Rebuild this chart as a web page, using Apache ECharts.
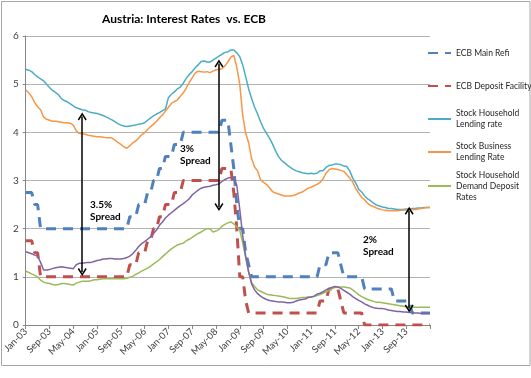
<!DOCTYPE html>
<html><head><meta charset="utf-8">
<script src="https://cdn.jsdelivr.net/npm/echarts@6/dist/echarts.min.js"></script>
<style>html,body{margin:0;padding:0;background:#fff}#c{width:531px;height:378px}</style>
</head><body><div id="c"></div>
<script>
// Monthly categories Jan-03 .. May-14
const monthNames = ['Jan','Feb','Mar','Apr','May','Jun','Jul','Aug','Sep','Oct','Nov','Dec'];
const categories = [];
for (let i = 0; i < 137; i++) {
  const yy = 3 + Math.floor(i / 12);
  categories.push(monthNames[i % 12] + '-' + (yy < 10 ? '0' + yy : '' + yy));
}
const yTicks = [0, 1, 2, 3, 4, 5, 6];

const ecbMainRefi = [
  2.75,2.75,2.75,2.5,2.5,2,2,2,2,2,2,2,
  2,2,2,2,2,2,2,2,2,2,2,2,
  2,2,2,2,2,2,2,2,2,2,2,2.25,
  2.25,2.25,2.5,2.5,2.5,2.75,2.75,3,3,3.25,3.25,3.5,
  3.5,3.5,3.75,3.75,3.75,4,4,4,4,4,4,4,
  4,4,4,4,4,4,4.25,4.25,4.25,3.75,3.25,2.5,
  2,2,1.5,1.25,1,1,1,1,1,1,1,1,
  1,1,1,1,1,1,1,1,1,1,1,1,
  1,1,1,1.25,1.25,1.25,1.5,1.5,1.5,1.5,1.25,1,
  1,1,1,1,1,1,0.75,0.75,0.75,0.75,0.75,0.75,
  0.75,0.75,0.75,0.75,0.5,0.5,0.5,0.5,0.5,0.5,0.25,0.25,
  0.25,0.25,0.25,0.25,0.25
];
const ecbDeposit = [
  1.75,1.75,1.75,1.5,1.5,1,1,1,1,1,1,1,
  1,1,1,1,1,1,1,1,1,1,1,1,
  1,1,1,1,1,1,1,1,1,1,1,1.25,
  1.25,1.25,1.5,1.5,1.5,1.75,1.75,2,2,2.25,2.25,2.5,
  2.5,2.5,2.75,2.75,2.75,3,3,3,3,3,3,3,
  3,3,3,3,3,3,3.25,3.25,3.25,3.25,2.75,2,
  1,1,0.5,0.25,0.25,0.25,0.25,0.25,0.25,0.25,0.25,0.25,
  0.25,0.25,0.25,0.25,0.25,0.25,0.25,0.25,0.25,0.25,0.25,0.25,
  0.25,0.25,0.25,0.5,0.5,0.5,0.75,0.75,0.75,0.75,0.5,0.25,
  0.25,0.25,0.25,0.25,0.25,0.25,0,0,0,0,0,0,
  0,0,0,0,0,0,0,0,0,0,0,0,
  0,0,0,0,0
];
const householdLending = [
  5.31,5.29,5.26,5.20,5.15,5.11,5.07,5.00,4.93,4.87,4.83,4.78,
  4.70,4.66,4.63,4.59,4.55,4.51,4.49,4.47,4.46,4.43,4.41,4.40,
  4.39,4.37,4.35,4.32,4.29,4.26,4.22,4.18,4.15,4.13,4.12,4.13,
  4.14,4.15,4.17,4.18,4.20,4.25,4.30,4.34,4.38,4.41,4.45,4.48,
  4.72,4.79,4.84,4.90,4.94,5.02,5.12,5.20,5.26,5.34,5.40,5.47,
  5.48,5.46,5.46,5.50,5.54,5.58,5.62,5.66,5.67,5.71,5.71,5.65,
  5.57,5.40,5.15,4.90,4.70,4.52,4.38,4.22,4.08,3.98,3.88,3.76,
  3.62,3.50,3.42,3.37,3.32,3.27,3.23,3.20,3.18,3.16,3.15,3.14,
  3.15,3.14,3.15,3.20,3.20,3.27,3.31,3.32,3.34,3.34,3.33,3.30,
  3.29,3.20,3.05,2.95,2.82,2.76,2.68,2.62,2.58,2.53,2.49,2.47,
  2.45,2.44,2.42,2.42,2.41,2.40,2.40,2.40,2.41,2.41,2.42,2.42,
  2.43,2.43,2.44,2.44,2.44
];
const businessLending = [
  4.88,4.82,4.74,4.62,4.53,4.47,4.32,4.27,4.25,4.23,4.23,4.22,
  4.21,4.20,4.20,4.19,4.15,4.03,3.98,3.97,3.96,3.94,3.93,3.92,
  3.91,3.91,3.90,3.89,3.89,3.88,3.84,3.79,3.75,3.70,3.67,3.72,
  3.78,3.82,3.88,3.95,3.99,4.06,4.12,4.17,4.23,4.30,4.36,4.44,
  4.52,4.60,4.64,4.67,4.75,4.82,4.92,5.03,5.13,5.23,5.27,5.26,
  5.25,5.26,5.24,5.27,5.30,5.31,5.32,5.38,5.46,5.56,5.60,5.35,
  5.00,4.35,3.98,3.78,3.45,3.28,3.20,3.01,2.96,2.92,2.85,2.77,
  2.74,2.72,2.70,2.68,2.68,2.68,2.69,2.71,2.74,2.76,2.80,2.84,
  2.86,2.89,2.92,2.96,3.03,3.15,3.22,3.25,3.24,3.23,3.21,3.19,
  3.12,3.05,2.97,2.83,2.74,2.65,2.60,2.53,2.48,2.46,2.43,2.41,
  2.39,2.38,2.37,2.37,2.37,2.37,2.38,2.38,2.39,2.39,2.40,2.40,
  2.41,2.42,2.43,2.44,2.44
];
const householdDemandDeposit = [
  1.12,1.09,1.06,1.03,1.00,0.93,0.89,0.87,0.86,0.84,0.83,0.84,
  0.86,0.86,0.85,0.84,0.83,0.87,0.89,0.91,0.91,0.91,0.92,0.94,
  0.94,0.95,0.96,0.96,0.96,0.96,0.96,0.96,0.96,0.96,0.97,0.99,
  1.01,1.05,1.08,1.12,1.15,1.18,1.22,1.27,1.31,1.36,1.42,1.47,
  1.53,1.58,1.62,1.66,1.68,1.70,1.75,1.78,1.82,1.86,1.90,1.93,
  1.97,2.00,2.00,1.93,1.95,1.98,2.05,2.09,2.12,2.14,2.10,2.04,
  1.97,1.70,1.40,1.10,0.88,0.80,0.73,0.70,0.67,0.64,0.63,0.62,
  0.61,0.60,0.59,0.58,0.56,0.55,0.55,0.55,0.56,0.57,0.57,0.58,
  0.58,0.59,0.61,0.63,0.66,0.69,0.72,0.75,0.78,0.79,0.79,0.79,
  0.78,0.77,0.73,0.68,0.63,0.59,0.56,0.53,0.51,0.49,0.47,0.47,
  0.46,0.45,0.44,0.43,0.42,0.41,0.40,0.39,0.38,0.38,0.37,0.37,
  0.37,0.37,0.37,0.37,0.37
];
const householdDeposit = [
  1.52,1.50,1.48,1.45,1.43,1.30,1.14,1.14,1.15,1.17,1.19,1.20,
  1.21,1.20,1.19,1.18,1.17,1.25,1.28,1.28,1.29,1.30,1.30,1.32,
  1.34,1.35,1.37,1.37,1.38,1.38,1.37,1.37,1.37,1.38,1.40,1.43,
  1.48,1.55,1.63,1.69,1.73,1.78,1.83,1.90,1.97,2.07,2.14,2.22,
  2.28,2.33,2.38,2.43,2.48,2.52,2.57,2.62,2.70,2.75,2.80,2.84,
  2.86,2.87,2.88,2.90,2.91,2.93,2.98,3.02,3.05,3.06,3.04,2.90,
  2.40,1.85,1.42,1.10,0.85,0.73,0.65,0.60,0.56,0.53,0.51,0.50,
  0.49,0.48,0.48,0.47,0.46,0.46,0.47,0.50,0.52,0.53,0.54,0.57,
  0.58,0.60,0.64,0.66,0.69,0.73,0.76,0.78,0.80,0.79,0.76,0.72,
  0.68,0.64,0.59,0.55,0.51,0.48,0.44,0.41,0.38,0.36,0.35,0.34,
  0.34,0.33,0.31,0.30,0.29,0.28,0.28,0.27,0.27,0.26,0.26,0.25,
  0.25,0.24,0.24,0.24,0.24
];

// Spread annotations: [category, top value, bottom value]
const spreadArrows = [
  ['Aug-04', 4.33, 1.10],
  ['Jun-08', 5.43, 2.45],
  ['Oct-13', 2.37, 0.34]
];
const spreadTexts = ['3.5%\nSpread', '3%\nSpread', '2%\nSpread'];

const FONT = 'Lato, "Liberation Sans", sans-serif';
const chevron = 'path://M5,0 L10,7 L8.6,8 L5,2.8 L1.4,8 L0,7 Z';

const chart = echarts.init(document.getElementById('c'), null, {renderer: 'canvas'});

function legendItem(name, label, top, lines) {
  const L = 11;
  const p = (lines - 1) * L;
  return {
    data: [name],
    formatter: () => label,
    orient: 'vertical',
    left: 427,
    top: top - p - L / 2,
    padding: 0,
    itemWidth: 23,
    itemHeight: 10,
    itemGap: 0,
    selectedMode: false,
    itemStyle: {opacity: 0},
    textStyle: {fontFamily: FONT, fontSize: 8.5, color: '#262626', lineHeight: L, padding: [p, 0, 0, 0]}
  };
}

const option = {
  animation: false,
  backgroundColor: '#ffffff',
  textStyle: {fontFamily: FONT},
  title: {
    text: 'Austria: Interest Rates  vs. ECB',
    left: 97, top: 8,
    textStyle: {fontFamily: FONT, fontSize: 12, fontWeight: 'bold', color: '#000'}
  },
  grid: {left: 24, right: 101, top: 36, bottom: 53, containLabel: false},
  legend: [
    legendItem('ECB Main Refi', 'ECB Main Refi', 53, 1),
    legendItem('ECB Deposit Facility', 'ECB Deposit Facility', 86, 1),
    legendItem('Stock Household Lending rate', 'Stock Household\nLending rate', 119, 2),
    legendItem('Stock Business Lending Rate', 'Stock Business\nLending Rate', 152, 2),
    legendItem('Stock Household Demand Deposit Rates', 'Stock Household\nDemand Deposit\nRates', 186, 3)
  ],
  xAxis: {
    type: 'category',
    data: categories,
    boundaryGap: false,
    axisLine: {lineStyle: {color: '#868686', width: 1}},
    axisTick: {show: true, interval: (i) => i % 8 === 0, length: 4, lineStyle: {color: '#868686'}},
    axisLabel: {
      interval: (i) => i % 8 === 0 && i < 136,
      rotate: 45, fontSize: 9.5, color: '#404040', fontFamily: FONT, margin: 5
    },
    splitLine: {show: false}
  },
  yAxis: {
    type: 'value', min: yTicks[0], max: yTicks[yTicks.length - 1], interval: 1,
    axisLine: {show: true, lineStyle: {color: '#868686'}},
    axisTick: {show: true, length: 3, lineStyle: {color: '#868686'}},
    axisLabel: {fontSize: 10, color: '#404040', fontFamily: FONT, margin: 7},
    splitLine: {lineStyle: {color: '#b3b3b3', width: 1}}
  },
  series: [
    {name: 'ECB Main Refi', type: 'line', data: ecbMainRefi, symbol: 'none', z: 2,
     lineStyle: {color: '#4F81BD', width: 3, type: [10, 7]}, itemStyle: {color: '#4F81BD'}},
    {name: 'ECB Deposit Facility', type: 'line', data: ecbDeposit, symbol: 'none', z: 2,
     lineStyle: {color: '#C0504D', width: 3, type: [10, 7]}, itemStyle: {color: '#C0504D'}},
    {name: 'Stock Household Lending rate', type: 'line', data: householdLending, symbol: 'none', z: 3,
     lineStyle: {color: '#4BACC6', width: 1.5}, itemStyle: {color: '#4BACC6'},
     markLine: {
       silent: true, symbol: [chevron, chevron], symbolSize: [9, 8],
       label: {show: false},
       lineStyle: {color: '#000', width: 1.5, type: 'solid'},
       data: spreadArrows.map(a => [{coord: [a[0], a[1]]}, {coord: [a[0], a[2]]}])
     }},
    {name: 'Stock Business Lending Rate', type: 'line', data: businessLending, symbol: 'none', z: 3,
     lineStyle: {color: '#F79646', width: 1.5}, itemStyle: {color: '#F79646'}},
    {name: 'Stock Household Demand Deposit Rates', type: 'line', data: householdDemandDeposit, symbol: 'none', z: 3,
     lineStyle: {color: '#9BBB59', width: 1.5}, itemStyle: {color: '#9BBB59'}},
    {name: 'Stock Household Deposit Rates', type: 'line', data: householdDeposit, symbol: 'none', z: 3,
     lineStyle: {color: '#8064A2', width: 1.5}, itemStyle: {color: '#8064A2'}}
  ],
  graphic: [
    {type: 'rect', shape: {x: 1.5, y: 1.5, width: 528.5, height: 364}, silent: true, z: -1,
     style: {fill: 'none', stroke: '#a6a6a6', lineWidth: 1}},
    {type: 'text', left: 90, top: 199, style: {text: spreadTexts[0], font: 'bold 10px ' + FONT, fill: '#000', lineHeight: 12}},
    {type: 'text', left: 180, top: 143, style: {text: spreadTexts[1], font: 'bold 10px ' + FONT, fill: '#000', lineHeight: 12}},
    {type: 'text', left: 363, top: 234, style: {text: spreadTexts[2], font: 'bold 10px ' + FONT, fill: '#000', lineHeight: 12}}
  ]
};
chart.setOption(option);
</script></body></html>
